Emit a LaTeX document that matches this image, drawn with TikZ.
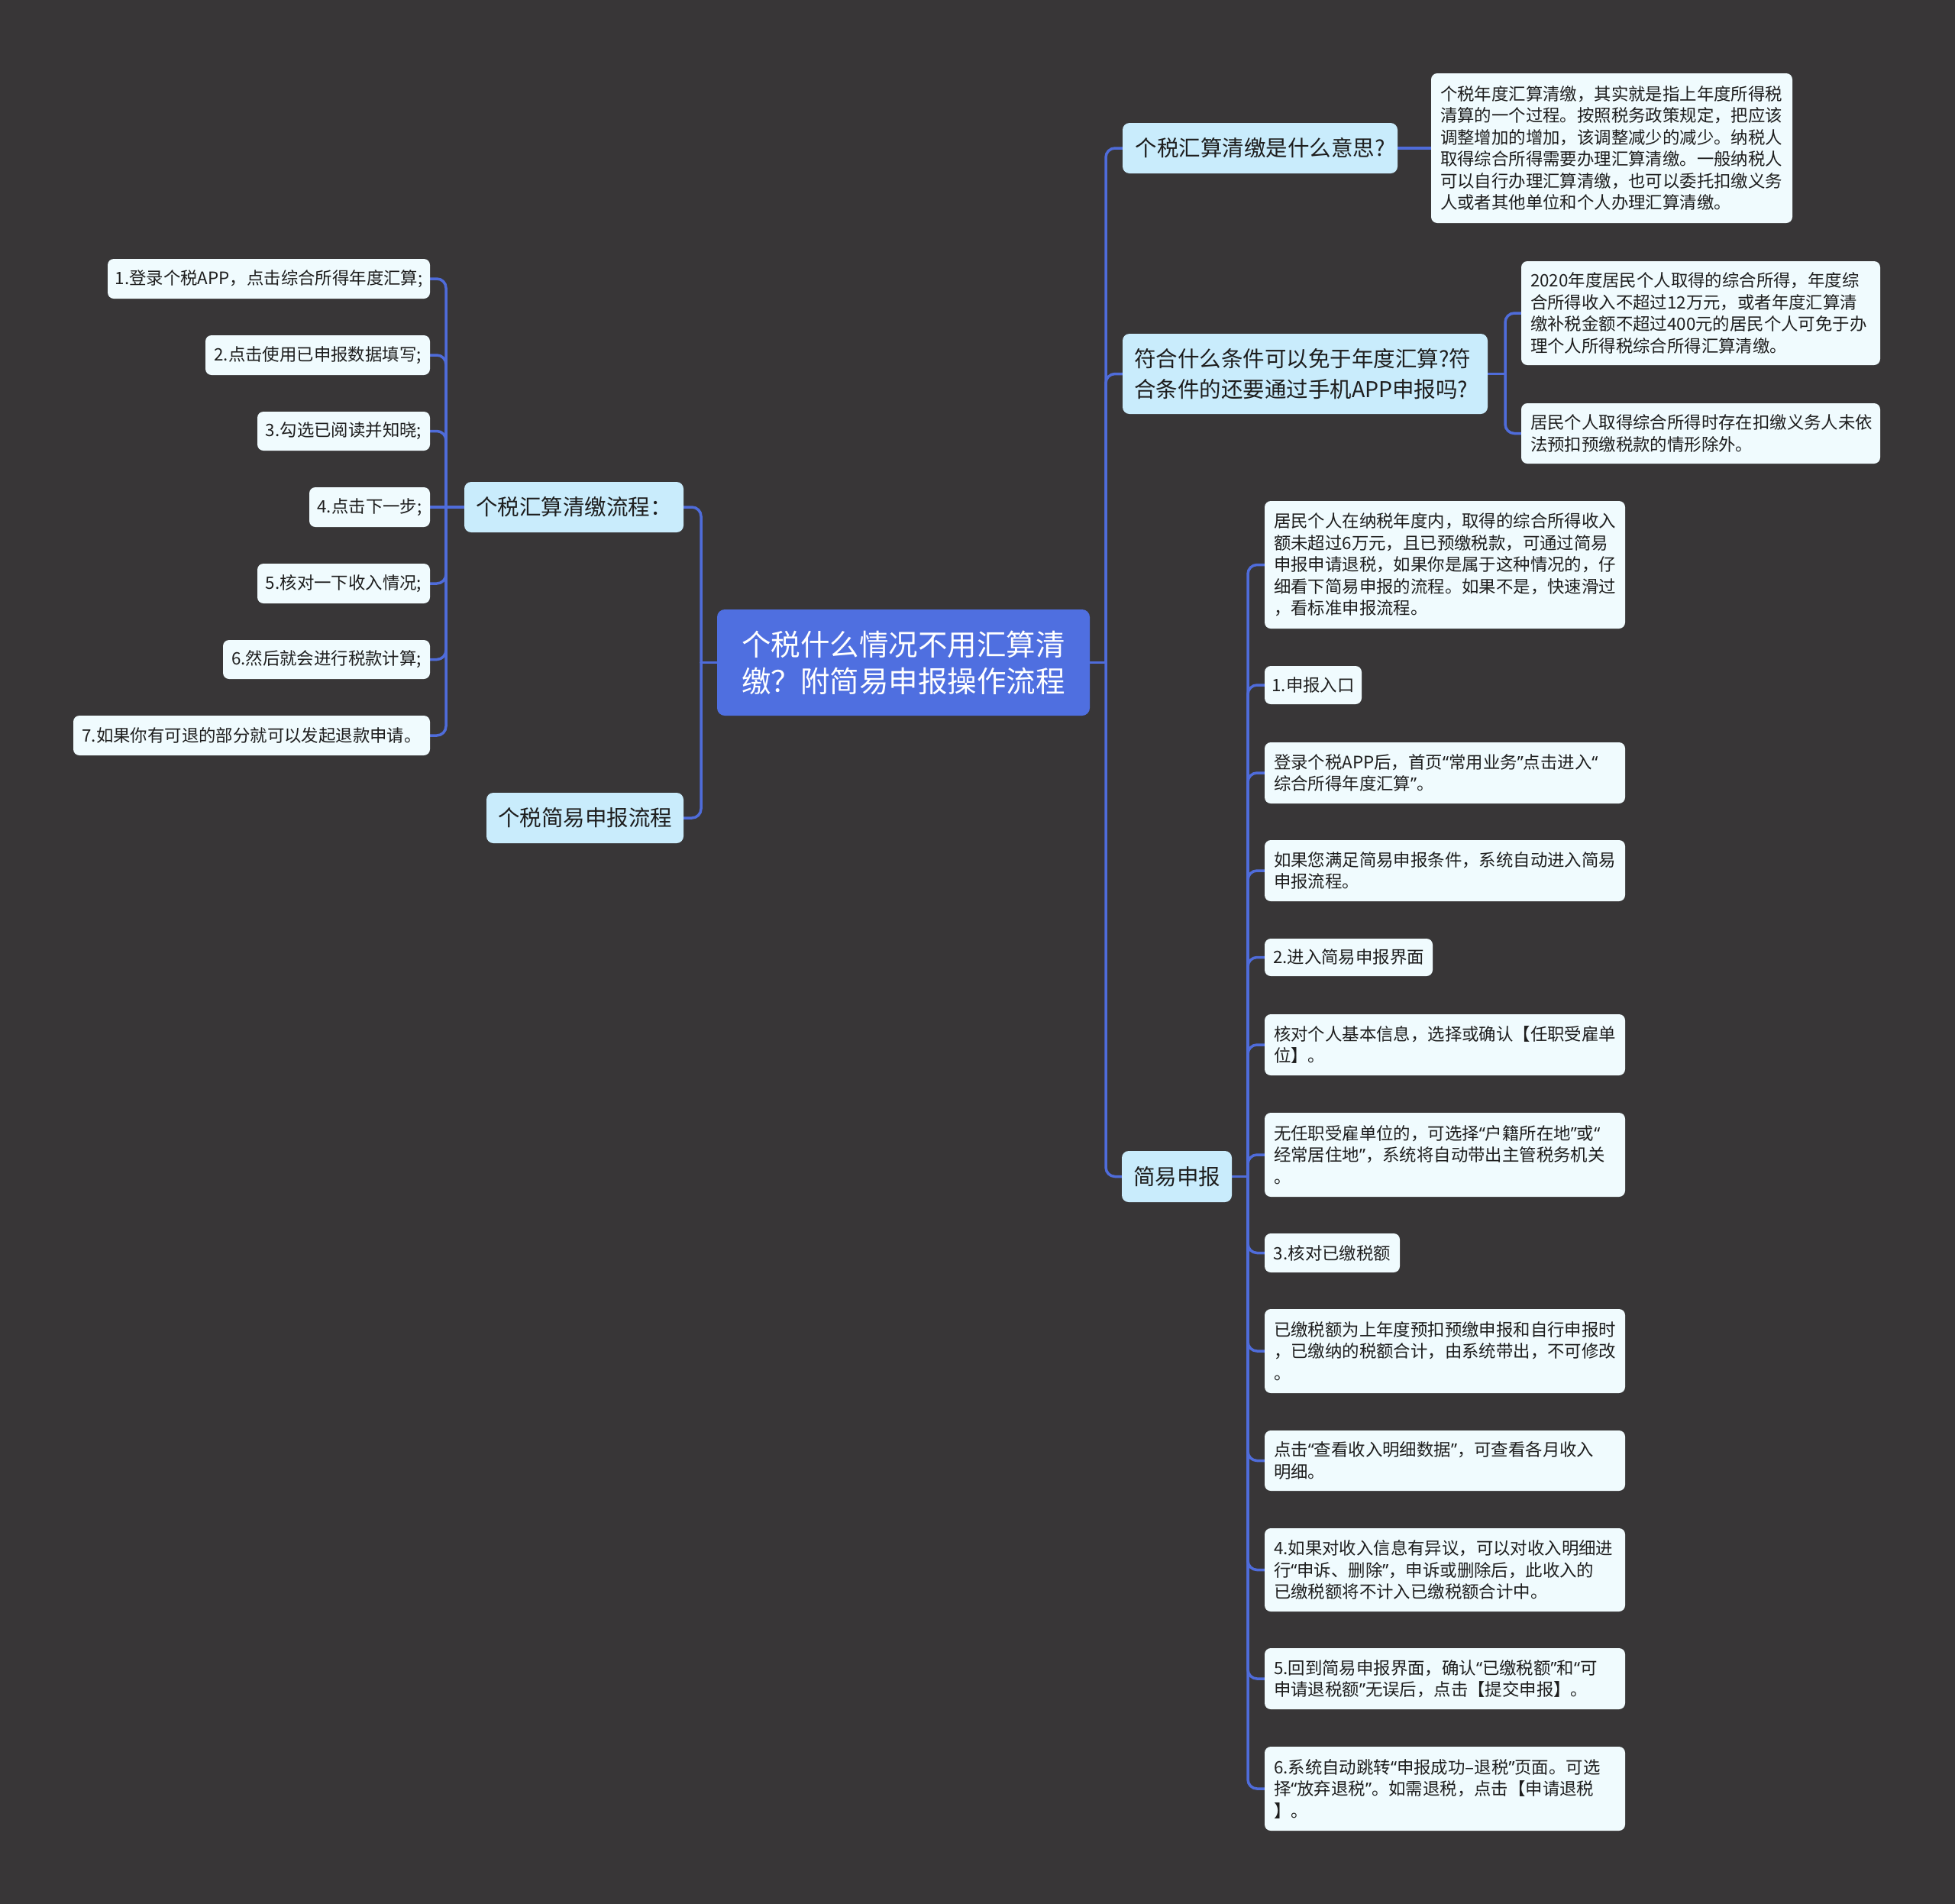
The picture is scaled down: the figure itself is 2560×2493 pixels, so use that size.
\documentclass[tikz,border=0pt]{standalone}
\usepackage{fontspec}
\setmainfont{Noto Sans CJK SC}
\newfontfamily\myqfont{Noto Sans}
\newcommand{\myql}{{\myqfont “}}
\newcommand{\myqr}{{\myqfont ”}}
\definecolor{bgc}{HTML}{383637}
\definecolor{linec}{HTML}{4F6CDA}
\definecolor{rootc}{HTML}{4F6FE0}
\definecolor{lvc}{HTML}{C9ECFC}
\definecolor{leafc}{HTML}{F0FBFE}
\definecolor{txtc}{HTML}{1E1E1E}
\pgfdeclarelayer{bottom}
\pgfdeclarelayer{background}
\pgfsetlayers{bottom,background,main}
\tikzset{
  conn/.style={draw=linec, line width=3.5pt, line cap=round, line join=round},
  rootbox/.style={fill=rootc, rounded corners=10pt, text=white, align=center,
    font=\fontsize{38.5pt}{48pt}\selectfont, inner xsep=22pt, inner ysep=0pt},
  lvbox/.style={fill=lvc, rounded corners=9pt, text=txtc, align=center,
    font=\fontsize{28.5pt}{40pt}\selectfont, inner xsep=4pt, inner ysep=0pt},
  lvmulti/.style={fill=lvc, rounded corners=9pt, text=txtc, align=left,
    font=\fontsize{28.5pt}{40pt}\selectfont, inner xsep=15pt, inner ysep=0pt},
  leafbox/.style={fill=leafc, rounded corners=8pt, text=txtc, align=left,
    font=\fontsize{22.4pt}{28.5pt}\selectfont, inner xsep=12pt, inner ysep=0pt},
  leafone/.style={fill=leafc, rounded corners=8pt, text=txtc, align=center,
    font=\fontsize{22.4pt}{28.5pt}\selectfont, inner xsep=4pt, inner ysep=0pt},
  rc/.style={rounded corners=12pt}
}
\begin{document}
\begin{tikzpicture}[x=1pt,y=-1pt]
\begin{pgfonlayer}{bottom}
\fill[bgc] (0,0) rectangle (2560,2493);
\end{pgfonlayer}
\useasboundingbox (0,0) rectangle (2560,2493);

% spine coordinates
\coordinate (spR) at (1448,0);
\coordinate (spJ) at (1634,0);
\coordinate (spQ) at (1971,0);
\coordinate (spL) at (918,0);
\coordinate (spA) at (584,0);

% root
\node[rootbox, minimum width=488pt, minimum height=139pt, text width=444pt] (C) at (1183,867.5)
  {个税什么情况不用汇算清\\缴？附简易申报操作流程};

% level 1 right
\node[lvbox, minimum width=360pt, minimum height=66pt] (N1) at (1650,194) {个税汇算清缴是什么意思?};
\node[lvmulti, minimum width=478pt, minimum height=105pt, text width=448pt] (N2) at (1709,489.5)
  {符合什么条件可以免于年度汇算?符\\合条件的还要通过手机APP申报吗?};
\node[lvbox, minimum width=144pt, minimum height=67pt] (N3) at (1541,1540.5) {简易申报};

% level 1 left
\node[lvbox, minimum width=287pt, minimum height=66pt] (A) at (751.5,664) {个税汇算清缴流程：};
\node[lvbox, minimum width=258pt, minimum height=66pt] (B) at (766,1071) {个税简易申报流程};

% leaves of N1, N2
\node[leafbox, minimum width=473pt, minimum height=196pt, text width=449pt] (R1) at (2110.5,194)
  {个税年度汇算清缴，其实就是指上年度所得税\\清算的一个过程。按照税务政策规定，把应该\\调整增加的增加，该调整减少的减少。纳税人\\取得综合所得需要办理汇算清缴。一般纳税人\\可以自行办理汇算清缴，也可以委托扣缴义务\\人或者其他单位和个人办理汇算清缴。};
\node[leafbox, minimum width=470pt, minimum height=136pt, text width=446pt] (R2a) at (2227,410)
  {2020年度居民个人取得的综合所得，年度综\\合所得收入不超过12万元，或者年度汇算清\\缴补税金额不超过400元的居民个人可免于办\\理个人所得税综合所得汇算清缴。};
\node[leafbox, minimum width=470pt, minimum height=79pt, text width=446pt] (R2b) at (2227,567.5)
  {居民个人取得综合所得时存在扣缴义务人未依\\法预扣预缴税款的情形除外。};

% leaves of N3
\node[leafbox, minimum width=472pt, minimum height=167pt, text width=448pt] (c1) at (1892,739.5)
  {居民个人在纳税年度内，取得的综合所得收入\\额未超过6万元，且已预缴税款，可通过简易\\申报申请退税，如果你是属于这种情况的，仔\\细看下简易申报的流程。如果不是，快速滑过\\，看标准申报流程。};
\node[leafone, minimum width=127pt, minimum height=50pt] (c2) at (1719.5,897) {1.申报入口};
\node[leafbox, minimum width=472pt, minimum height=80pt, text width=448pt] (c3) at (1892,1012)
  {登录个税APP后，首页\myql 常用业务\myqr 点击进入\myql\\综合所得年度汇算\myqr 。};
\node[leafbox, minimum width=472pt, minimum height=80pt, text width=448pt] (c4) at (1892,1140)
  {如果您满足简易申报条件，系统自动进入简易\\申报流程。};
\node[leafone, minimum width=220pt, minimum height=49pt] (c5) at (1766,1253.5) {2.进入简易申报界面};
\node[leafbox, minimum width=472pt, minimum height=80pt, text width=448pt] (c6) at (1892,1368)
  {核对个人基本信息，选择或确认【任职受雇单\\位】。};
\node[leafbox, minimum width=472pt, minimum height=110pt, text width=448pt] (c7) at (1892,1512)
  {无任职受雇单位的，可选择\myql 户籍所在地\myqr 或\myql\\经常居住地\myqr ，系统将自动带出主管税务机关\\。};
\node[leafone, minimum width=177pt, minimum height=51pt] (c8) at (1744.5,1640.5) {3.核对已缴税额};
\node[leafbox, minimum width=472pt, minimum height=110pt, text width=448pt] (c9) at (1892,1769)
  {已缴税额为上年度预扣预缴申报和自行申报时\\，已缴纳的税额合计，由系统带出，不可修改\\。};
\node[leafbox, minimum width=472pt, minimum height=79pt, text width=448pt] (c10) at (1892,1912.5)
  {点击\myql 查看收入明细数据\myqr ，可查看各月收入\\明细。};
\node[leafbox, minimum width=472pt, minimum height=109pt, text width=448pt] (c11) at (1892,2055.5)
  {4.如果对收入信息有异议，可以对收入明细进\\行\myql 申诉、删除\myqr ，申诉或删除后，此收入的\\已缴税额将不计入已缴税额合计中。};
\node[leafbox, minimum width=472pt, minimum height=80pt, text width=448pt] (c12) at (1892,2198)
  {5.回到简易申报界面，确认\myql 已缴税额\myqr 和\myql 可\\申请退税额\myqr 无误后，点击【提交申报】。};
\node[leafbox, minimum width=472pt, minimum height=110pt, text width=448pt] (c13) at (1892,2342)
  {6.系统自动跳转\myql 申报成功–退税\myqr 页面。可选\\择\myql 放弃退税\myqr 。如需退税，点击【申请退税\\】。};

% leaves of A
\node[leafone, minimum width=422pt, minimum height=52pt] (L1) at (352,365) {1.登录个税APP，点击综合所得年度汇算;};
\node[leafone, minimum width=294pt, minimum height=52pt] (L2) at (416,465) {2.点击使用已申报数据填写;};
\node[leafone, minimum width=226pt, minimum height=51pt] (L3) at (450,564.5) {3.勾选已阅读并知晓;};
\node[leafone, minimum width=158pt, minimum height=52pt] (L4) at (484,664) {4.点击下一步;};
\node[leafone, minimum width=226pt, minimum height=52pt] (L5) at (450,764) {5.核对一下收入情况;};
\node[leafone, minimum width=271pt, minimum height=51pt] (L6) at (427.5,863.5) {6.然后就会进行税款计算;};
\node[leafone, minimum width=467pt, minimum height=52pt] (L7) at (329.5,963) {7.如果你有可退的部分就可以发起退款申请。};

\begin{pgfonlayer}{background}
% connectors: root -> right
\draw[conn] (C.east) -- (C.east -| spR);
\foreach \n in {N1,N2,N3} \draw[conn,rc] (C.east -| spR) |- (\n.west);
% N1 -> R1
\draw[conn] (N1.east) -- (R1.west);
% N2 -> R2a, R2b
\draw[conn] (N2.east) -- (N2.east -| spQ);
\foreach \n in {R2a,R2b} \draw[conn,rc] (N2.east -| spQ) |- (\n.west);
% N3 -> c1..c13
\draw[conn] (N3.east) -- (N3.east -| spJ);
\foreach \n in {c1,c2,c3,c4,c5,c6,c7,c8,c9,c10,c11,c12,c13} \draw[conn,rc] (N3.east -| spJ) |- (\n.west);
% root -> left
\draw[conn] (C.west) -- (C.west -| spL);
\foreach \n in {A,B} \draw[conn,rc] (C.west -| spL) |- (\n.east);
% A -> L1..L7
\draw[conn] (A.west) -- (L4.east);
\foreach \n in {L1,L2,L3,L5,L6,L7} \draw[conn,rc] (A.west -| spA) |- (\n.east);
\end{pgfonlayer}
\end{tikzpicture}
\end{document}
